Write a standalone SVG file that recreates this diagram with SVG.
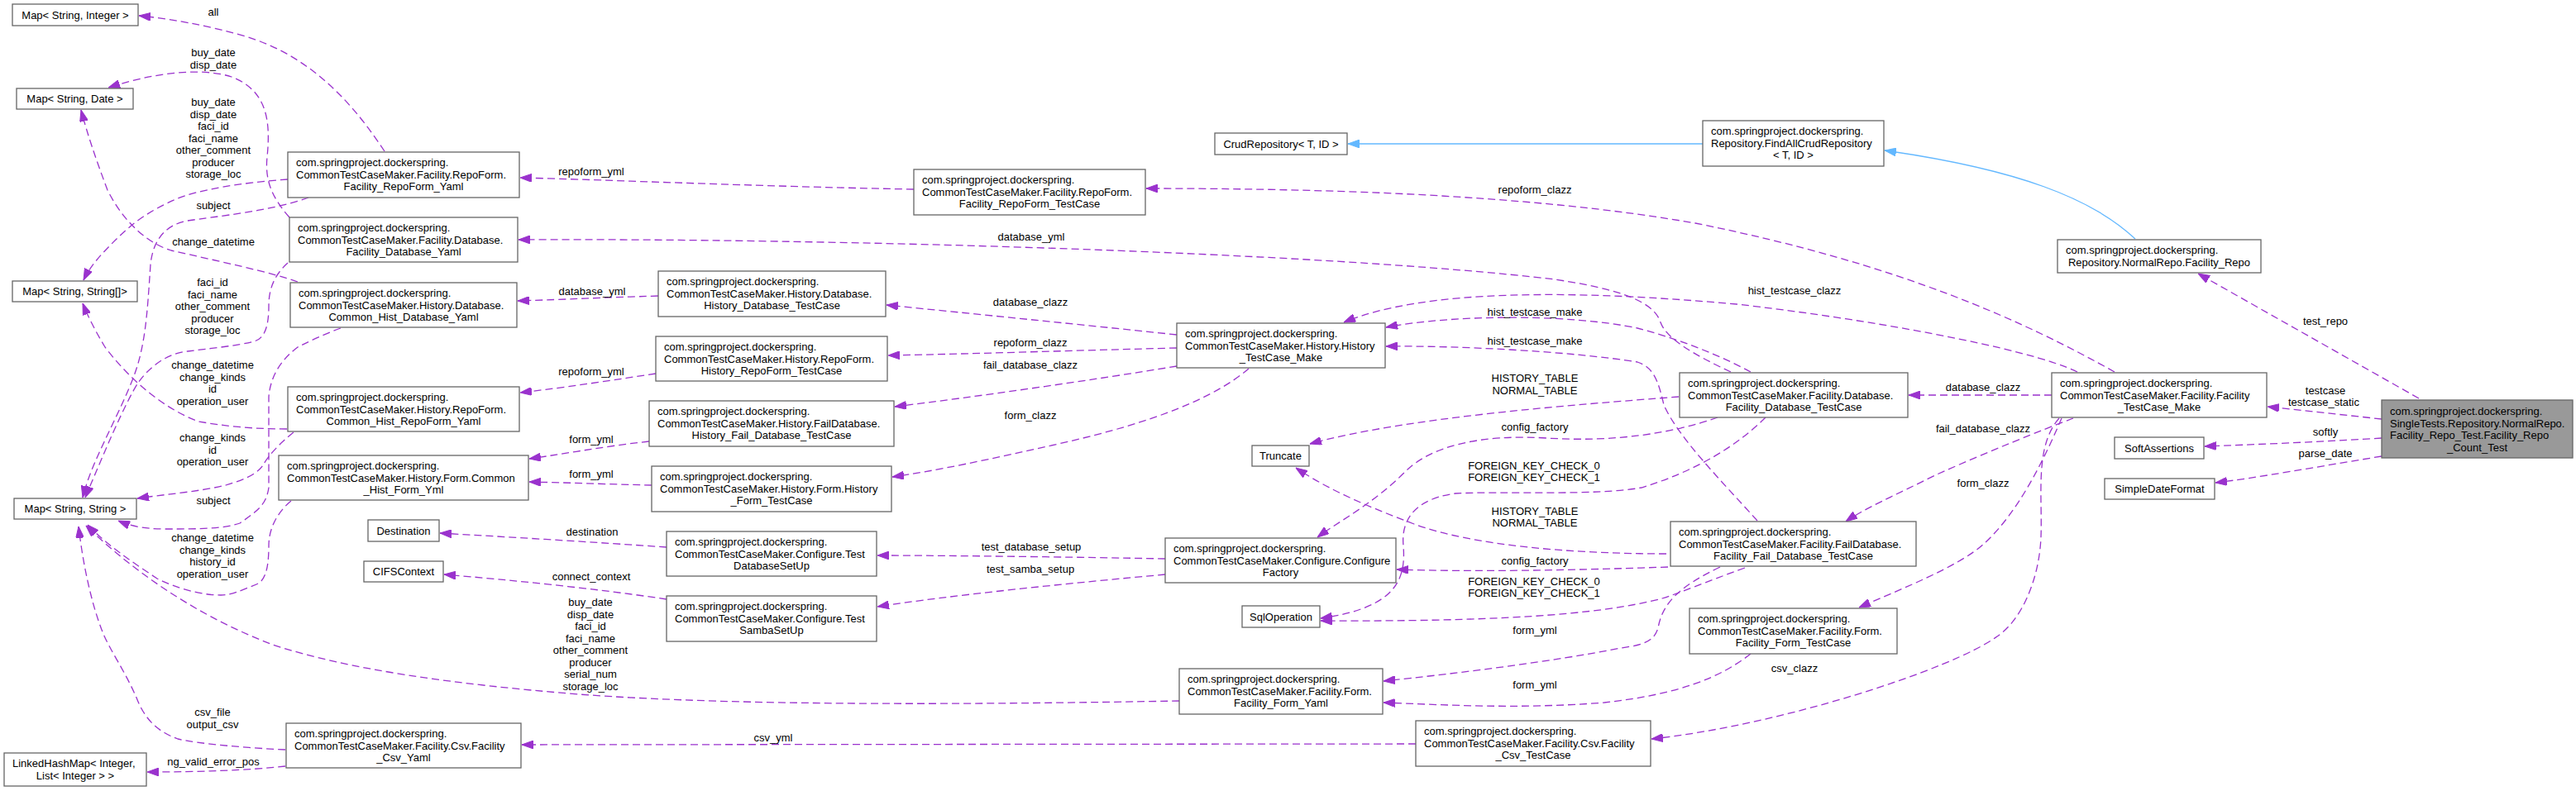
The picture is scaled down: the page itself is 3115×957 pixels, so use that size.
<svg xmlns="http://www.w3.org/2000/svg" width="3115" height="957" viewBox="0 0 3115 957">
<style>
.node rect{fill:#fff;stroke:#666;stroke-width:1.3}
.main rect{fill:#999}
text{font-family:"Liberation Sans",Arial,Helvetica,sans-serif;font-size:13px;fill:#000}
.c{text-anchor:middle}
.e{fill:none;stroke:#9a32cd;stroke-width:1.3;stroke-dasharray:9,5;marker-end:url(#pa)}
.i{fill:none;stroke:#63b8ff;stroke-width:1.3;marker-end:url(#ba)}
</style>
<defs>
<marker id="pa" markerUnits="userSpaceOnUse" markerWidth="14" markerHeight="10" viewBox="0 0 14 10" refX="14" refY="5" orient="auto"><path d="M0,0 L14,5 L0,10 z" fill="#9a32cd" stroke="#9a32cd" stroke-width="1"/></marker>
<marker id="ba" markerUnits="userSpaceOnUse" markerWidth="14" markerHeight="10" viewBox="0 0 14 10" refX="14" refY="5" orient="auto"><path d="M0,0 L14,5 L0,10 z" fill="#63b8ff" stroke="#63b8ff" stroke-width="1"/></marker>
</defs>
<rect width="3115" height="957" fill="#fff"/>

<g id="edges">
<g><path class="i" d="M2059,174 L1630,174"/></g>
<g><path class="i" d="M2582,289 C2530,240 2440,205 2279,182"/></g>

<g><path class="e" d="M2925,482 L2658,331"/><text class="c" x="2812" y="393">test_repo</text></g>
<g><path class="e" d="M2880,507 L2742,492"/><text class="c" x="2812" y="477">testcase</text><text class="c" x="2810" y="491">testcase_static</text></g>
<g><path class="e" d="M2880,530 C2800,535 2720,538 2666,540"/><text class="c" x="2812" y="527">softly</text></g>
<g><path class="e" d="M2880,552 C2800,565 2730,578 2679,584"/><text class="c" x="2812" y="553">parse_date</text></g>

<g><path class="e" d="M2557,450 C2450,390 2300,320 2050,270 C1850,235 1600,228 1386,228"/><text class="c" x="1856" y="234">repoform_clazz</text></g>
<g><path class="e" d="M2512,450 C2450,420 2250,385 2100,368 C1900,350 1720,350 1625,390"/><text class="c" x="2170" y="356">hist_testcase_clazz</text></g>
<g><path class="e" d="M2481,478 L2308,478"/><text class="c" x="2398" y="473">database_clazz</text></g>
<g><path class="e" d="M2507,506 C2470,520 2400,548 2340,575 C2290,600 2255,615 2232,631"/><text class="c" x="2398" y="523">fail_database_clazz</text></g>
<g><path class="e" d="M2493,506 C2470,560 2440,620 2400,657 C2370,685 2300,712 2248,735"/><text class="c" x="2398" y="589">form_clazz</text></g>
<g><path class="e" d="M2490,506 C2460,540 2470,600 2468,650 C2466,700 2445,750 2415,770 C2360,810 2150,878 1997,894"/><text class="c" x="2170" y="813">csv_clazz</text></g>

<g><path class="e" d="M2093,450 C2050,430 2015,410 2008,390 C2000,365 1960,350 1880,338 C1600,305 1000,288 627,290"/><text class="c" x="1247" y="291">database_yml</text></g>
<g><path class="e" d="M2117,450 C2080,430 2030,410 1980,397 C1900,380 1760,380 1676,396"/><text class="c" x="1856" y="382">hist_testcase_make</text></g>
<g><path class="e" d="M2125,630 C2080,580 2030,530 2012,490 C2005,460 2000,445 1980,438 C1900,425 1760,418 1676,419"/><text class="c" x="1856" y="417">hist_testcase_make</text></g>
<g><path class="e" d="M2030,480 C1900,490 1700,505 1584,537"/><text class="c" x="1856" y="462">HISTORY_TABLE</text><text class="c" x="1856" y="477">NORMAL_TABLE</text></g>
<g><path class="e" d="M2077,505 C2020,525 1950,535 1870,530 C1790,525 1730,540 1700,570 C1660,610 1620,630 1593,650"/><text class="c" x="1856" y="521">config_factory</text></g>
<g><path class="e" d="M2135,505 C2100,540 2050,570 1985,590 C1930,600 1820,594 1760,597 C1700,605 1695,640 1697,660 C1700,700 1690,735 1597,748"/><text class="c" x="1855" y="568">FOREIGN_KEY_CHECK_0</text><text class="c" x="1855" y="582">FOREIGN_KEY_CHECK_1</text></g>
<g><path class="e" d="M2015,670 C1900,670 1780,660 1710,634 C1660,615 1610,595 1567,566"/><text class="c" x="1856" y="623">HISTORY_TABLE</text><text class="c" x="1856" y="637">NORMAL_TABLE</text></g>
<g><path class="e" d="M2017,686 C1900,690 1780,692 1689,689"/><text class="c" x="1856" y="683">config_factory</text></g>
<g><path class="e" d="M2110,687 C2060,705 2030,718 2010,724 C1930,745 1800,752 1597,751"/><text class="c" x="1855" y="708">FOREIGN_KEY_CHECK_0</text><text class="c" x="1855" y="722">FOREIGN_KEY_CHECK_1</text></g>
<g><path class="e" d="M2080,686 C2030,710 2010,730 2005,760 C2000,775 1990,780 1960,784 C1880,800 1760,815 1673,824"/><text class="c" x="1856" y="767">form_yml</text></g>
<g><path class="e" d="M2117,791 C2080,820 2030,840 1940,850 C1840,858 1750,853 1673,850"/><text class="c" x="1856" y="833">form_yml</text></g>
<g><path class="e" d="M1712,900 L631,901"/><text class="c" x="935" y="897">csv_yml</text></g>

<g><path class="e" d="M1105,229 C900,225 750,218 629,215"/><text class="c" x="715" y="212">repoform_yml</text></g>
<g><path class="e" d="M796,358 C730,360 690,362 626,364"/><text class="c" x="716" y="357">database_yml</text></g>
<g><path class="e" d="M793,452 C740,460 690,468 629,475"/><text class="c" x="715" y="454">repoform_yml</text></g>
<g><path class="e" d="M785,534 C730,540 690,548 640,555"/><text class="c" x="715" y="536">form_yml</text></g>
<g><path class="e" d="M788,587 C740,586 690,584 640,583"/><text class="c" x="715" y="578">form_yml</text></g>
<g><path class="e" d="M806,662 C720,656 620,650 532,645"/><text class="c" x="716" y="648">destination</text></g>
<g><path class="e" d="M806,725 C720,712 620,702 537,695"/><text class="c" x="715" y="702">connect_context</text></g>
<g><path class="e" d="M1409,676 C1300,674 1150,672 1061,672"/><text class="c" x="1247" y="666">test_database_setup</text></g>
<g><path class="e" d="M1409,695 C1300,705 1150,720 1061,734"/><text class="c" x="1246" y="693">test_samba_setup</text></g>
<g><path class="e" d="M1423,405 C1300,392 1180,380 1072,369"/><text class="c" x="1246" y="370">database_clazz</text></g>
<g><path class="e" d="M1423,421 C1300,424 1180,428 1074,430"/><text class="c" x="1246" y="419">repoform_clazz</text></g>
<g><path class="e" d="M1423,443 C1320,460 1180,480 1082,492"/><text class="c" x="1246" y="446">fail_database_clazz</text></g>
<g><path class="e" d="M1510,446 C1470,480 1400,510 1280,537 C1200,555 1130,570 1079,577"/><text class="c" x="1246" y="507">form_clazz</text></g>

<g><path class="e" d="M465,183 C430,130 380,70 300,45 C250,30 200,22 168,19"/><text class="c" x="258" y="19">all</text></g>
<g><path class="e" d="M350,263 C330,240 320,220 323,190 C327,150 325,110 280,93 C240,80 180,90 131,106"/><text class="c" x="258" y="68">buy_date</text><text class="c" x="258" y="83">disp_date</text></g>
<g><path class="e" d="M348,217 C290,221 240,230 215,240 C180,255 160,270 140,290 C125,305 110,320 101,339"/><text class="c" x="258" y="128">buy_date</text><text class="c" x="258" y="142.5">disp_date</text><text class="c" x="258" y="157">faci_id</text><text class="c" x="258" y="171.5">faci_name</text><text class="c" x="258" y="186">other_comment</text><text class="c" x="258" y="200.5">producer</text><text class="c" x="258" y="215">storage_loc</text></g>
<g><path class="e" d="M373,239 C330,255 260,262 227,267 C200,272 185,290 182,320 C178,380 176,420 160,460 C140,510 110,560 100,602"/><text class="c" x="258" y="253">subject</text></g>
<g><path class="e" d="M360,341 C330,330 260,315 207,303 C180,295 150,270 130,230 C115,190 105,160 98,133"/><text class="c" x="258" y="297">change_datetime</text></g>
<g><path class="e" d="M348,318 C335,330 325,345 325,370 C325,395 320,410 307,413 C290,418 250,422 227,425 C200,428 180,445 167,463 C150,490 125,550 103,602"/><text class="c" x="257" y="346">faci_id</text><text class="c" x="257" y="360.5">faci_name</text><text class="c" x="257" y="375">other_comment</text><text class="c" x="257" y="389.5">producer</text><text class="c" x="257" y="404">storage_loc</text></g>
<g><path class="e" d="M347,519 C300,519 270,515 240,510 C200,495 160,463 127,420 C115,400 105,380 100,367"/><text class="c" x="257" y="446">change_datetime</text><text class="c" x="257" y="460.5">change_kinds</text><text class="c" x="257" y="475">id</text><text class="c" x="257" y="489.5">operation_user</text></g>
<g><path class="e" d="M412,397 C390,405 370,415 360,420 C340,435 327,455 325,480 L325,590 C322,610 313,617 290,633 C270,640 240,640 200,640 C170,640 155,635 143,630"/><text class="c" x="258" y="610">subject</text></g>
<g><path class="e" d="M355,523 C340,535 325,550 318,563 C310,575 290,582 273,587 C240,595 200,598 166,603"/><text class="c" x="257" y="534">change_kinds</text><text class="c" x="257" y="548.5">id</text><text class="c" x="257" y="563">operation_user</text></g>
<g><path class="e" d="M352,606 C335,620 325,640 325,660 C325,690 320,703 310,707 C290,715 280,720 267,720 C240,720 210,710 190,700 C160,680 130,660 106,635"/><text class="c" x="257" y="655">change_datetime</text><text class="c" x="257" y="669.5">change_kinds</text><text class="c" x="257" y="684">history_id</text><text class="c" x="257" y="698.5">operation_user</text></g>
<g><path class="e" d="M1426,848 C1200,852 900,855 700,840 C550,828 420,810 330,780 C250,750 170,700 104,636"/><text class="c" x="714" y="733">buy_date</text><text class="c" x="714" y="747.5">disp_date</text><text class="c" x="714" y="762">faci_id</text><text class="c" x="714" y="776.5">faci_name</text><text class="c" x="714" y="791">other_comment</text><text class="c" x="714" y="805.5">producer</text><text class="c" x="714" y="820">serial_num</text><text class="c" x="714" y="834.5">storage_loc</text></g>
<g><path class="e" d="M345,907 C300,905 240,900 215,894 C190,885 175,870 165,844 C150,810 135,790 125,767 C110,730 100,680 95,637"/><text class="c" x="257" y="866">csv_file</text><text class="c" x="257" y="880.5">output_csv</text></g>
<g><path class="e" d="M345,927 C300,932 240,934 178,934"/><text class="c" x="258" y="926">ng_valid_error_pos</text></g>
</g>

<g id="mapInt" class="node"><rect x="15" y="5" width="152" height="26"/><text class="c" x="91" y="22.5">Map&lt; String, Integer &gt;</text></g>
<g id="mapDate" class="node"><rect x="20" y="107" width="141" height="25"/><text class="c" x="90.5" y="124">Map&lt; String, Date &gt;</text></g>
<g id="mapArr" class="node"><rect x="15" y="340" width="151" height="25"/><text class="c" x="90.5" y="357">Map&lt; String, String[]&gt;</text></g>
<g id="mapStr" class="node"><rect x="17" y="603" width="148" height="25"/><text class="c" x="91" y="620">Map&lt; String, String &gt;</text></g>
<g id="linkedHashMap" class="node"><rect x="5" y="911" width="172" height="40"/><text x="15" y="928">LinkedHashMap&lt; Integer,</text><text class="c" x="91" y="943">List&lt; Integer &gt; &gt;</text></g>

<g id="facilityRepoFormYaml" class="node"><rect x="348" y="184" width="280" height="55"/><text x="358" y="201">com.springproject.dockerspring.</text><text x="358" y="215.5">CommonTestCaseMaker.Facility.RepoForm.</text><text class="c" x="488" y="230">Facility_RepoForm_Yaml</text></g>
<g id="facilityDatabaseYaml" class="node"><rect x="350" y="263" width="276" height="54"/><text x="360" y="280">com.springproject.dockerspring.</text><text x="360" y="294.5">CommonTestCaseMaker.Facility.Database.</text><text class="c" x="488" y="309">Facility_Database_Yaml</text></g>
<g id="commonHistDatabaseYaml" class="node"><rect x="351" y="342" width="274" height="54"/><text x="361" y="359">com.springproject.dockerspring.</text><text x="361" y="373.5">CommonTestCaseMaker.History.Database.</text><text class="c" x="488" y="388">Common_Hist_Database_Yaml</text></g>
<g id="commonHistRepoFormYaml" class="node"><rect x="348" y="468" width="280" height="54"/><text x="358" y="485">com.springproject.dockerspring.</text><text x="358" y="499.5">CommonTestCaseMaker.History.RepoForm.</text><text class="c" x="488" y="514">Common_Hist_RepoForm_Yaml</text></g>
<g id="commonHistFormYml" class="node"><rect x="337" y="551" width="302" height="54"/><text x="347" y="568">com.springproject.dockerspring.</text><text x="347" y="582.5">CommonTestCaseMaker.History.Form.Common</text><text class="c" x="488" y="597">_Hist_Form_Yml</text></g>
<g id="destination" class="node"><rect x="445" y="629" width="86" height="26"/><text class="c" x="488" y="646.5">Destination</text></g>
<g id="cifsContext" class="node"><rect x="440" y="679" width="96" height="25"/><text class="c" x="488" y="696">CIFSContext</text></g>
<g id="facilityCsvYaml" class="node"><rect x="346" y="875" width="284" height="54"/><text x="356" y="892">com.springproject.dockerspring.</text><text x="356" y="906.5">CommonTestCaseMaker.Facility.Csv.Facility</text><text class="c" x="488" y="921">_Csv_Yaml</text></g>

<g id="facilityRepoFormTestCase" class="node"><rect x="1105" y="205" width="280" height="55"/><text x="1115" y="222">com.springproject.dockerspring.</text><text x="1115" y="236.5">CommonTestCaseMaker.Facility.RepoForm.</text><text class="c" x="1245" y="251">Facility_RepoForm_TestCase</text></g>
<g id="historyDatabaseTestCase" class="node"><rect x="796" y="328" width="275" height="55"/><text x="806" y="345">com.springproject.dockerspring.</text><text x="806" y="359.5">CommonTestCaseMaker.History.Database.</text><text class="c" x="933.5" y="374">History_Database_TestCase</text></g>
<g id="historyRepoFormTestCase" class="node"><rect x="793" y="407" width="280" height="54"/><text x="803" y="424">com.springproject.dockerspring.</text><text x="803" y="438.5">CommonTestCaseMaker.History.RepoForm.</text><text class="c" x="933" y="453">History_RepoForm_TestCase</text></g>
<g id="historyFailDatabaseTestCase" class="node"><rect x="785" y="485" width="296" height="55"/><text x="795" y="502">com.springproject.dockerspring.</text><text x="795" y="516.5">CommonTestCaseMaker.History.FailDatabase.</text><text class="c" x="933" y="531">History_Fail_Database_TestCase</text></g>
<g id="historyFormTestCase" class="node"><rect x="788" y="564" width="290" height="55"/><text x="798" y="581">com.springproject.dockerspring.</text><text x="798" y="595.5">CommonTestCaseMaker.History.Form.History</text><text class="c" x="933" y="610">_Form_TestCase</text></g>
<g id="testDatabaseSetUp" class="node"><rect x="806" y="643" width="254" height="54"/><text x="816" y="660">com.springproject.dockerspring.</text><text x="816" y="674.5">CommonTestCaseMaker.Configure.Test</text><text class="c" x="933" y="689">DatabaseSetUp</text></g>
<g id="testSambaSetUp" class="node"><rect x="806" y="721" width="254" height="55"/><text x="816" y="738">com.springproject.dockerspring.</text><text x="816" y="752.5">CommonTestCaseMaker.Configure.Test</text><text class="c" x="933" y="767">SambaSetUp</text></g>

<g id="crudRepository" class="node"><rect x="1469" y="161" width="160" height="26"/><text class="c" x="1549" y="178.5">CrudRepository&lt; T, ID &gt;</text></g>
<g id="historyTestCaseMake" class="node"><rect x="1423" y="391" width="252" height="54"/><text x="1433" y="408">com.springproject.dockerspring.</text><text x="1433" y="422.5">CommonTestCaseMaker.History.History</text><text class="c" x="1549" y="437">_TestCase_Make</text></g>
<g id="truncate" class="node"><rect x="1514" y="539" width="69" height="25"/><text class="c" x="1548.5" y="556">Truncate</text></g>
<g id="configureFactory" class="node"><rect x="1409" y="651" width="279" height="54"/><text x="1419" y="668">com.springproject.dockerspring.</text><text x="1419" y="682.5">CommonTestCaseMaker.Configure.Configure</text><text class="c" x="1548.5" y="697">Factory</text></g>
<g id="sqlOperation" class="node"><rect x="1502" y="733" width="94" height="26"/><text class="c" x="1549" y="750.5">SqlOperation</text></g>
<g id="facilityFormYaml" class="node"><rect x="1426" y="809" width="246" height="55"/><text x="1436" y="826">com.springproject.dockerspring.</text><text x="1436" y="840.5">CommonTestCaseMaker.Facility.Form.</text><text class="c" x="1549" y="855">Facility_Form_Yaml</text></g>

<g id="findAllCrudRepository" class="node"><rect x="2059" y="146" width="219" height="55"/><text x="2069" y="163">com.springproject.dockerspring.</text><text x="2069" y="177.5">Repository.FindAllCrudRepository</text><text class="c" x="2168.5" y="192">&lt; T, ID &gt;</text></g>
<g id="facilityDatabaseTestCase" class="node"><rect x="2031" y="451" width="276" height="54"/><text x="2041" y="468">com.springproject.dockerspring.</text><text x="2041" y="482.5">CommonTestCaseMaker.Facility.Database.</text><text class="c" x="2169" y="497">Facility_Database_TestCase</text></g>
<g id="facilityFailDatabaseTestCase" class="node"><rect x="2020" y="631" width="297" height="54"/><text x="2030" y="648">com.springproject.dockerspring.</text><text x="2030" y="662.5">CommonTestCaseMaker.Facility.FailDatabase.</text><text class="c" x="2168.5" y="677">Facility_Fail_Database_TestCase</text></g>
<g id="facilityFormTestCase" class="node"><rect x="2043" y="736" width="251" height="55"/><text x="2053" y="753">com.springproject.dockerspring.</text><text x="2053" y="767.5">CommonTestCaseMaker.Facility.Form.</text><text class="c" x="2168.5" y="782">Facility_Form_TestCase</text></g>
<g id="facilityCsvTestCase" class="node"><rect x="1712" y="872" width="284" height="55"/><text x="1722" y="889">com.springproject.dockerspring.</text><text x="1722" y="903.5">CommonTestCaseMaker.Facility.Csv.Facility</text><text class="c" x="1854" y="918">_Csv_TestCase</text></g>

<g id="facilityRepo" class="node"><rect x="2488" y="290" width="246" height="40"/><text x="2498" y="307">com.springproject.dockerspring.</text><text class="c" x="2611" y="321.5">Repository.NormalRepo.Facility_Repo</text></g>
<g id="facilityTestCaseMake" class="node"><rect x="2481" y="451" width="260" height="54"/><text x="2491" y="468">com.springproject.dockerspring.</text><text x="2491" y="482.5">CommonTestCaseMaker.Facility.Facility</text><text class="c" x="2611" y="497">_TestCase_Make</text></g>
<g id="softAssertions" class="node"><rect x="2557" y="529" width="108" height="26"/><text class="c" x="2611" y="546.5">SoftAssertions</text></g>
<g id="simpleDateFormat" class="node"><rect x="2545" y="579" width="133" height="25"/><text class="c" x="2611.5" y="596">SimpleDateFormat</text></g>
<g id="facilityRepoCountTest" class="node main"><rect x="2880" y="484" width="231" height="70"/><text x="2890" y="502">com.springproject.dockerspring.</text><text x="2890" y="516.5">SingleTests.Repository.NormalRepo.</text><text x="2890" y="531">Facility_Repo_Test.Facility_Repo</text><text class="c" x="2995.5" y="545.5">_Count_Test</text></g>
</svg>
